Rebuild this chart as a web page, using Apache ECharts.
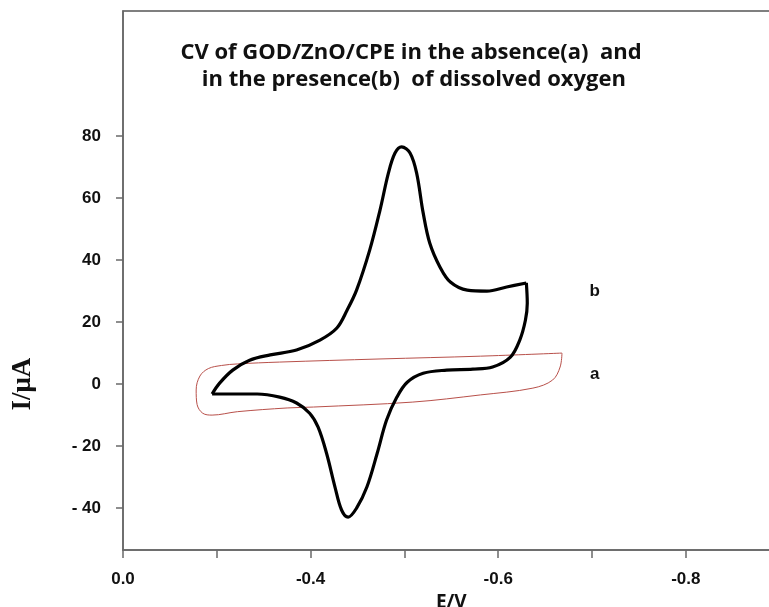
<!DOCTYPE html>
<html>
<head>
<meta charset="utf-8">
<script src="https://cdn.jsdelivr.net/npm/echarts@6/dist/echarts.min.js"></script>
<style>html,body{margin:0;padding:0;background:#fff}#c{width:769px;height:607px}</style>
</head>
<body>
<div id="c"></div>
<script>
// Tick labels
const xTickValues = [-0.2, -0.4, -0.6, -0.8];
const xTickLabels = ['0.0', '-0.4', '-0.6', '-0.8'];
const xMinorTicks = [-0.2, -0.3, -0.4, -0.5, -0.6, -0.7, -0.8];
const yTickValues = [-40, -20, 0, 20, 40, 60, 80];
const yTickLabels = ['- 40', '- 20', '0', '20', '40', '60', '80'];

// Curve b (presence of O2): branch from the left vertex up to the switching potential
const curveB1 = [
  [-0.295, -3.2], [-0.303, 0.3], [-0.317, 4.5], [-0.335, 7.7], [-0.357, 9.4],
  [-0.385, 11.0], [-0.410, 14.2], [-0.428, 18.1], [-0.439, 23.9], [-0.449, 30.3],
  [-0.463, 43.2], [-0.474, 56.1], [-0.483, 68.1], [-0.490, 74.5], [-0.497, 76.5],
  [-0.506, 74.5], [-0.513, 68.1], [-0.520, 55.2], [-0.527, 45.5], [-0.538, 37.7],
  [-0.549, 32.9], [-0.567, 30.3], [-0.588, 30.0], [-0.609, 31.3], [-0.630, 32.6]
];
// Curve b: return branch from the switching potential back to the vertex
const curveB2 = [
  [-0.630, 32.6], [-0.631, 26.1], [-0.629, 20.6], [-0.623, 14.2], [-0.613, 8.7],
  [-0.594, 5.5], [-0.573, 4.8], [-0.545, 4.5], [-0.520, 3.5], [-0.503, 0.6],
  [-0.492, -4.2], [-0.481, -11.6], [-0.471, -22.3], [-0.460, -33.2], [-0.449, -40.0],
  [-0.440, -42.9], [-0.433, -40.6], [-0.426, -33.2], [-0.417, -22.3], [-0.408, -13.9],
  [-0.399, -9.4], [-0.385, -6.1], [-0.367, -4.2], [-0.343, -3.2], [-0.314, -3.2],
  [-0.295, -3.2]
];
// Curve a (absence of O2)
const curveA = [
  [-0.668, 10.0], [-0.581, 9.0], [-0.474, 8.1], [-0.367, 7.1], [-0.322, 6.5],
  [-0.305, 6.0], [-0.291, 5.0], [-0.282, 2.6], [-0.278, -1.9], [-0.279, -6.6],
  [-0.285, -9.4], [-0.295, -10.0], [-0.322, -8.9], [-0.375, -7.7], [-0.403, -7.4],
  [-0.509, -5.8], [-0.581, -3.5], [-0.637, -1.3], [-0.658, 1.3], [-0.666, 5.5],
  [-0.668, 10.0]
];
// Curve labels
const curveLabels = [[-0.703, 30.0, 'b'], [-0.703, 3.2, 'a']];

const axisGray = '#6a6a6a';
const labelFont = { color: '#111', fontFamily: 'Liberation Sans', fontWeight: 'bold', fontSize: 17 };

const chart = echarts.init(document.getElementById('c'), null, { renderer: 'canvas' });
chart.setOption({
  animation: false,
  backgroundColor: '#fff',
  title: {
    text: 'CV of GOD/ZnO/CPE in the absence(a)  and\n in the presence(b)  of dissolved oxygen',
    left: 406, top: 34, textAlign: 'center',
    textStyle: { fontFamily: 'Open Sans', fontWeight: 'bold', fontSize: 22, color: '#111', lineHeight: 27 }
  },
  grid: { left: 123, top: 11, width: 656.6, height: 539, show: true, borderColor: '#555', borderWidth: 1.5,
    backgroundColor: 'transparent', containLabel: false, outerBoundsMode: 'none' },
  xAxis: {
    type: 'value', min: -0.9, max: -0.2, inverse: true,
    name: 'E/V', nameLocation: 'middle', nameGap: 37,
    nameTextStyle: { color: '#111', fontFamily: 'Open Sans', fontWeight: 'bold', fontSize: 19 },
    axisLine: { onZero: false, lineStyle: { color: axisGray, width: 1.5 } },
    axisTick: { show: true, length: 8, inside: false, customValues: xMinorTicks, lineStyle: { color: axisGray, width: 1.5 } },
    axisLabel: Object.assign({ margin: 21, customValues: xTickValues,
      formatter: function (v) {
        for (let i = 0; i < xTickValues.length; i++) if (Math.abs(v - xTickValues[i]) < 1e-6) return xTickLabels[i];
        return '';
      } }, labelFont),
    splitLine: { show: false }
  },
  yAxis: {
    type: 'value', min: -53.5, max: 120.3,
    axisLine: { show: true, onZero: false, lineStyle: { color: axisGray, width: 1.5 } },
    axisTick: { show: true, length: 7, customValues: yTickValues, lineStyle: { color: axisGray, width: 1.5 } },
    axisLabel: Object.assign({ margin: 22, customValues: yTickValues,
      formatter: function (v) { const i = yTickValues.indexOf(v); return i >= 0 ? yTickLabels[i] : ''; } }, labelFont),
    splitLine: { show: false }
  },
  series: [
    { type: 'line', data: curveA, smooth: 0.35, symbol: 'none', lineStyle: { color: '#b8504a', width: 1 } },
    { type: 'line', data: curveB1, smooth: 0.35, symbol: 'none', lineStyle: { color: '#000', width: 3.2 } },
    { type: 'line', data: curveB2, smooth: 0.35, symbol: 'none', lineStyle: { color: '#000', width: 3.2 } },
    { type: 'scatter', data: curveLabels.map(d => ({ value: [d[0], d[1]], name: d[2] })), symbolSize: 0,
      itemStyle: { opacity: 1 },
      label: { show: true, position: 'inside', formatter: '{b}', color: '#111', opacity: 1, textBorderWidth: 0,
        fontFamily: 'Liberation Sans', fontWeight: 'bold', fontSize: 17 } }
  ]
});
// y-axis title centred on I = 0, as in the reference
const p0 = chart.convertToPixel({ gridIndex: 0 }, [-0.2, 0]);
chart.setOption({
  graphic: [{
    type: 'text', x: 23, y: p0[1], rotation: Math.PI / 2,
    style: { text: 'I/μA', fill: '#111', font: 'bold 27px "Liberation Serif"', align: 'center', verticalAlign: 'middle' }
  }]
});
</script>
</body>
</html>
